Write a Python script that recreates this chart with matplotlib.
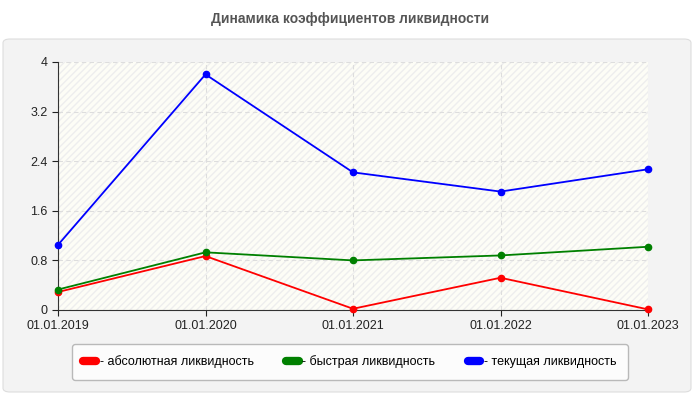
import matplotlib
matplotlib.use('Agg')
import matplotlib.pyplot as plt
from matplotlib.patches import FancyBboxPatch, Rectangle
from matplotlib.lines import Line2D

dates = ['01.01.2019', '01.01.2020', '01.01.2021', '01.01.2022', '01.01.2023']
absolute = [0.29, 0.87, 0.02, 0.52, 0.01]
quick = [0.33, 0.93, 0.80, 0.88, 1.02]
current = [1.05, 3.80, 2.22, 1.91, 2.27]
names = ['- абсолютная ликвидность', '- быстрая ликвидность', '- текущая ликвидность']
colors = ['#ff0000', '#008000', '#0000ff']
yticks = [0, 0.8, 1.6, 2.4, 3.2, 4]

plt.rcParams['font.family'] = ['Liberation Sans', 'DejaVu Sans']
fig = plt.figure(figsize=(7, 4), dpi=100)
fig.patch.set_facecolor('white')
# panel background, kept behind the axes
panel = FancyBboxPatch((3 / 700, 8 / 400), 688 / 700, 353 / 400,
                       boxstyle='round,pad=0,rounding_size=0.01',
                       transform=fig.transFigure, fc='#f3f3f3', ec='#dddddd', lw=0.8, zorder=-10)
fig.patches.append(panel)
fig.text(0.5, 0.953, 'Динамика коэффициентов ликвидности', ha='center', va='center',
         fontsize=10, fontweight='bold', color='#555555')

ax = fig.add_axes([58 / 700, 1 - 310 / 400, 590 / 700, 248 / 400])
ax.set_zorder(5)
ax.set_facecolor('#fdfdf6')
ax.add_patch(Rectangle((0, 0), 1, 1, transform=ax.transAxes, fill=False,
                       hatch='/////', ec='#eeeeee', lw=0, zorder=0))
x = list(range(len(dates)))
for vals, c in zip([absolute, quick, current], colors):
    ax.plot(x, vals, color=c, lw=1.3, marker='o', ms=4.5, zorder=3, clip_on=False)
ax.set_xlim(0, 4)
ax.set_ylim(0, 4)
ax.set_xticks(x)
ax.set_xticklabels(dates)
ax.set_yticks(yticks)
ax.set_yticklabels(['0', '0.8', '1.6', '2.4', '3.2', '4'])
ax.grid(True, ls=(0, (4, 3)), color='#dddddd', lw=0.8)
for s in ['top', 'right']:
    ax.spines[s].set_visible(False)
ax.spines['left'].set_color('#333333')
ax.spines['bottom'].set_color('#333333')
ax.tick_params(labelsize=9, colors='#222222', length=4)

handles = [Line2D([], [], color=c, lw=6, solid_capstyle='round') for c in colors]
leg = fig.legend(handles, names, loc='center', bbox_to_anchor=(350 / 700, 1 - 362 / 400),
                 ncol=3, frameon=True, fontsize=9, handlelength=1.0, handletextpad=0.3,
                 columnspacing=2.6, borderpad=0.9, fancybox=True)
leg.get_frame().set_edgecolor('#aaaaaa')
leg.get_frame().set_facecolor('white')
leg.set_zorder(6)

fig.savefig('out.png', dpi=100)
